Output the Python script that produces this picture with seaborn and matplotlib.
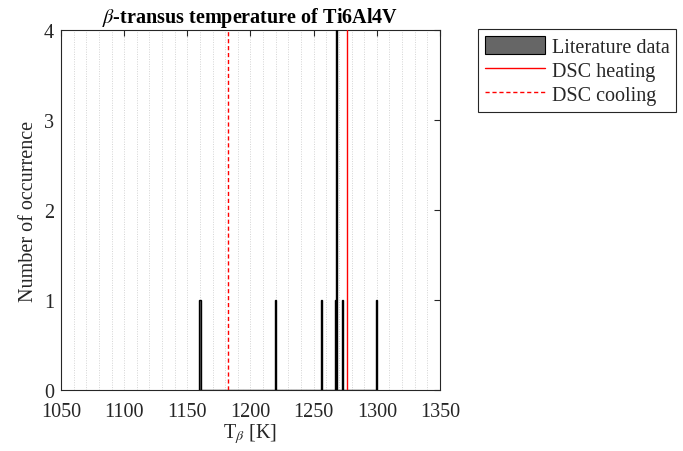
import numpy as np
import pandas as pd
import matplotlib
matplotlib.use("Agg")
import matplotlib.pyplot as plt
import seaborn as sns
from matplotlib.patches import Patch
from matplotlib.lines import Line2D

# Data
literature_T = [1160, 1220, 1256, 1267, 1268, 1268, 1268, 1268, 1273, 1300]
dsc_heating = 1276
dsc_cooling = 1182
x_ticks = [1050, 1100, 1150, 1200, 1250, 1300, 1350]
y_ticks = [0, 1, 2, 3, 4]
grid_T = list(range(1060, 1350, 10))

sns.set_theme(style="white")
plt.rcParams['font.family'] = ['Liberation Serif', 'DejaVu Serif']
plt.rcParams['mathtext.fontset'] = 'stix'

fig = plt.figure(figsize=(6.83, 4.52), dpi=100)
ax = fig.add_axes([61/683, 61/452, 379/683, 360/452])

df = pd.DataFrame({"T": literature_T})
sns.histplot(data=df, x="T", discrete=True, color="#666666", edgecolor="black",
             linewidth=1.0, alpha=1, ax=ax, zorder=3)

for g in grid_T:
    ax.axvline(g, color="#d4d4d4", linestyle=(0, (1, 1.5)), linewidth=0.7, zorder=0)

ax.axvline(dsc_heating, color="red", linewidth=1.0, zorder=4)
ax.axvline(dsc_cooling, color="red", linestyle=(0, (3, 2)), linewidth=1.0, zorder=4)

ax.set_xlim(1050, 1350)
ax.set_ylim(0, 4)
ax.set_xticks(x_ticks)
ax.set_yticks(y_ticks)
ax.tick_params(direction="in", top=True, right=True, length=4, width=0.8,
               colors="#262626", labelsize=14.5)
ax.tick_params(axis="x", pad=9)
ax.tick_params(axis="y", pad=5)
for t in ax.get_xticklabels() + ax.get_yticklabels():
    t.set_color("#262626")
for s in ax.spines.values():
    s.set_color("#262626")
    s.set_linewidth(0.8)

ax.set_xlabel(r"T$_{\beta}$ [K]", fontsize=14.5, color="#262626", labelpad=0)
ax.set_ylabel("Number of occurrence", fontsize=14.5, color="#262626", labelpad=4)
ax.set_title(r"$\beta$-transus temperature of Ti6Al4V", fontsize=14.5,
             fontweight="bold", color="black", pad=6)

handles = [Patch(facecolor="#666666", edgecolor="black", linewidth=0.8),
           Line2D([0], [0], color="red", linewidth=1.0),
           Line2D([0], [0], color="red", linewidth=1.0, linestyle=(0, (3, 2)))]
labels = ["Literature data", "DSC heating", "DSC cooling"]
leg = fig.legend(handles, labels, loc="upper left", bbox_to_anchor=(478/683, 1 - 30/452),
                 fontsize=14.5, frameon=True, fancybox=False, edgecolor="#262626",
                 framealpha=1, handlelength=3.0, handleheight=1.0, handletextpad=0.3,
                 borderpad=0.35, labelspacing=0.15, borderaxespad=0)
leg.get_frame().set_linewidth(0.8)

fig.savefig("out.png", dpi=100)
